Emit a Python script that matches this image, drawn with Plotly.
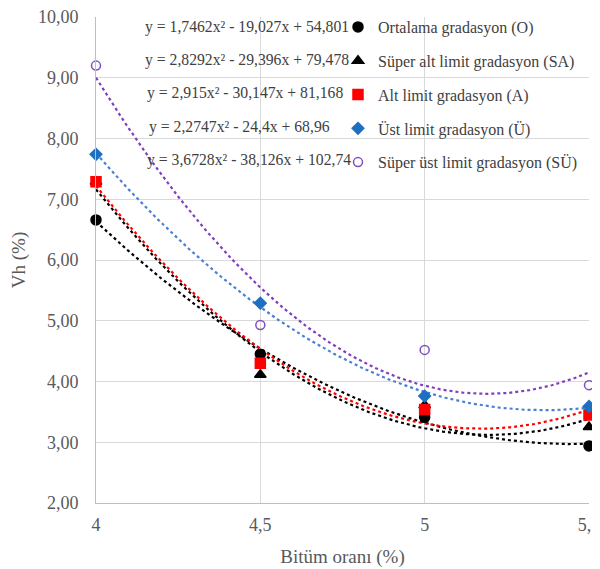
import numpy as np
import plotly.graph_objects as go

bitum = [4.0, 4.5, 5.0, 5.5]
series_names = ["Ortalama gradasyon (O)", "Süper alt limit gradasyon (SA)",
                "Alt limit gradasyon (A)", "Üst limit gradasyon (Ü)",
                "Süper üst limit gradasyon (SÜ)"]
vh_O = [6.66, 4.45, 3.41, 2.94]
vh_SA = [7.29, 4.11, 3.61, 3.25]
vh_A = [7.29, 4.30, 3.54, 3.45]
vh_U = [7.74, 5.29, 3.76, 3.59]
vh_SU = [9.20, 4.93, 4.52, 3.94]

# trendline coefficients (a, b, c) for y = a x^2 + b x + c
coef_O = [1.7462, -19.027, 54.801]
coef_SA = [2.8292, -29.396, 79.478]
coef_A = [2.915, -30.147, 81.168]
coef_U = [2.2747, -24.4, 68.96]
coef_SU = [3.6728, -38.126, 102.74]

equations = ["y = 1,7462x² - 19,027x + 54,801",
             "y = 2,8292x² - 29,396x + 79,478",
             "y = 2,915x² - 30,147x + 81,168",
             "y = 2,2747x² - 24,4x + 68,96",
             "y = 3,6728x² - 38,126x + 102,74"]

SERIF = "Liberation Serif"

values = [vh_O, vh_SA, vh_A, vh_U, vh_SU]
coefs = [coef_O, coef_SA, coef_A, coef_U, coef_SU]
marker_colors = ["#000000", "#000000", "#FF0000", "#1F6FC0", "#7F4FBF"]
line_colors = ["#000000", "#000000", "#FF0000", "#4A80D4", "#7F3FBF"]
symbols = ["circle", "triangle-up", "square", "diamond", "circle-open"]
sizes = [10, 10, 10, 9, 9]

# page offset (browser body margin) compensation
OFF = 8
W, H = 600 - OFF, 569 - OFF
L, R, T, B = 96 - OFF, 11, 17 - OFF, 66
PW, PH = W - L - R, H - T - B

def px_to_paper(px, py):
    return ((px - OFF) - L) / PW, 1 - ((py - OFF) - T) / PH

fig = go.Figure()
xs = np.linspace(4, 5.5, 200)
for coef, lc in zip(coefs, line_colors):
    ys = np.polyval(coef, xs)
    fig.add_trace(go.Scatter(x=xs, y=ys, mode="lines", showlegend=False,
                             line=dict(color=lc, width=2.2, dash="dot"),
                             hoverinfo="skip"))

for i, (name, vals) in enumerate(zip(series_names, values)):
    fig.add_trace(go.Scatter(
        x=bitum, y=vals, mode="markers", name=name, legendgroup=f"g{i}",
        cliponaxis=False,
        marker=dict(symbol=symbols[i], size=sizes[i], color=marker_colors[i],
                    line=dict(color=marker_colors[i], width=1.5))))

eq_pos = [(143, 27), (143, 60), (145, 93), (147, 127), (145, 160)]
for eq, (px, py) in zip(equations, eq_pos):
    ax, ay = px_to_paper(px, py)
    fig.add_annotation(text=eq, xref="paper", yref="paper", x=ax, y=ay,
                       xanchor="left", yanchor="middle", showarrow=False,
                       font=dict(family=SERIF, size=15.7, color="#404040"))

lx, ly = px_to_paper(338, 10)
fig.update_layout(
    width=W, height=H,
    margin=dict(l=L, r=R, t=T, b=B, autoexpand=False),
    paper_bgcolor="white", plot_bgcolor="white",
    separators=",.",
    font=dict(family=SERIF, color="#595959"),
    legend=dict(x=lx, y=ly, xanchor="left", yanchor="top",
                bgcolor="rgba(0,0,0,0)", tracegroupgap=10,
                font=dict(family=SERIF, size=16, color="#404040"),
                itemwidth=30),
    xaxis=dict(range=[4, 5.5], tickvals=bitum, ticktext=["4", "4,5", "5", "5,5"],
               showgrid=True, gridcolor="#D9D9D9", gridwidth=1,
               showline=True, linecolor="#BFBFBF", linewidth=1,
               zeroline=False, ticks="", ticklabelstandoff=5, automargin=False,
               ticklabeloverflow="allow",
               tickfont=dict(family=SERIF, size=18, color="#595959"),
               title=dict(text="Bitüm oranı (%)", font=dict(family=SERIF, size=19, color="#595959"), standoff=16)),
    yaxis=dict(range=[2, 10], dtick=1, tickformat=".2f",
               showgrid=True, gridcolor="#D9D9D9", gridwidth=1,
               showline=True, linecolor="#BFBFBF", linewidth=1,
               zeroline=False, ticks="", ticklabelstandoff=13, automargin=False,
               ticklabeloverflow="allow",
               tickfont=dict(family=SERIF, size=18, color="#595959"),
               title=dict(text="Vh (%)", font=dict(family=SERIF, size=19, color="#595959"), standoff=11)),
)

fig.write_html("out.html")
